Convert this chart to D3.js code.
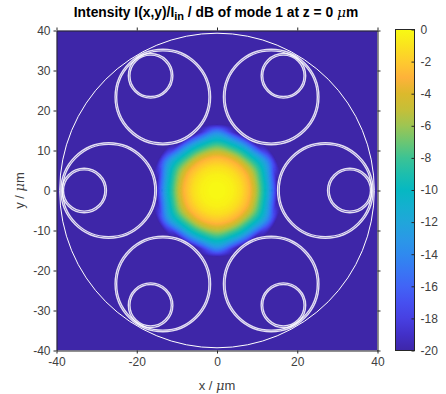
<!DOCTYPE html>
<html><head><meta charset="utf-8">
<script src="https://cdn.jsdelivr.net/npm/d3@7"></script>
<style>
html,body{margin:0;padding:0;background:#fff}
svg{display:block}
text{font-family:"Liberation Sans",Arial,sans-serif;fill:#262626}
.tick text{font-size:12px;fill:#404040}
.domain,.tick line{stroke:#262626;stroke-width:1}
</style></head><body>
<svg id="c" width="446" height="394"></svg>
<script>
// Axis ticks
const xTicks=[-40,-20,0,20,40];
const yTicks=[-40,-30,-20,-10,0,10,20,30,40];
const cbarTicks=[0,-2,-4,-6,-8,-10,-12,-14,-16,-18,-20];
// Colour bar
const cStops=[-20,-19,-18,-17,-16,-15,-14,-13,-12,-11,-10,-9,-8,-7,-6,-5,-4,-3,-2,-1,0];
const cHex=["#3e26a8","#4230c8","#4740e2","#4650f0","#4164f6","#3877f4","#2f8aef","#2a99e6","#20a6da","#14b0cf","#06b8c2","#1dbead","#3cc394","#6cc672","#9dc553","#c5bf38","#dcb92c","#feb23a","#fecb2e","#fae31e","#f8fa13"];
// Field: dB against radius (um), read along a lobe direction and a notch direction
const radii=[0,2,4,6,8,9,10,11,12,13,14,15,16,16.5,17];
const dbNotch=[0,-0.08,-0.4,-1.2,-2.7,-4.1,-6,-8,-10,-12.6,-15.8,-20,-20,-20,-20];
const dbLobe=[0,-0.08,-0.4,-1.2,-2.6,-3.9,-5.5,-7.2,-9,-10.8,-12.8,-15.3,-18.5,-20,-20];
// Fibre geometry (um)
const ringAngles=[0,60,120,180,240,300];
const largeDist=27, largeRadii=[11.5,11.9];
const smallDist=33.1, smallRadii=[5.15,5.55];
const outerRadius=39.2;

const fmt=d=>String(d);
const svg=d3.select("#c");
const L=56.5,R=377.5,T=30.5,B=350.5;
const x=d3.scaleLinear().domain([-40,40]).range([L,R]);
const y=d3.scaleLinear().domain([-40,40]).range([B,T]);
const color=d3.scaleLinear().domain(cStops).range(cHex).clamp(true);

svg.append("clipPath").attr("id","plot").append("rect")
  .attr("x",L).attr("y",T).attr("width",R-L).attr("height",B-T);
const g=svg.append("g").attr("clip-path","url(#plot)");
g.append("rect").attr("x",L).attr("y",T).attr("width",R-L).attr("height",B-T).attr("fill",color(-20));

// field sampled on a grid, then contoured
const span=20,n=161;
const pN=d3.scaleLinear().domain(radii).range(dbNotch).clamp(true);
const pL=d3.scaleLinear().domain(radii).range(dbLobe).clamp(true);
const vals=new Float64Array(n*n);
for(let j=0;j<n;j++)for(let i=0;i<n;i++){
  const ux=-span+i*2*span/(n-1),uy=span-j*2*span/(n-1);
  const r=Math.hypot(ux,uy),th=Math.atan2(uy,ux);
  const w=Math.pow((1-Math.cos(6*th))/2,2);
  vals[j*n+i]=pN(r)*(1-w)+pL(r)*w;
}
const thresholds=d3.range(-19.9,0.01,0.1);
const cg=d3.geoPath(d3.geoTransform({point(px,py){
  this.stream.point(x(-span+px*2*span/(n-1)-2*span/(n-1)*0.5),y(span-py*2*span/(n-1)+2*span/(n-1)*0.5));
}}));
g.append("g").selectAll("path").data(d3.contours().size([n,n]).thresholds(thresholds)(Array.from(vals)))
  .join("path").attr("d",cg).attr("fill",d=>color(d.value)).attr("stroke",d=>color(d.value)).attr("stroke-width",0.3);

// rings
const rings=[];
ringAngles.forEach(a=>{
  const t=a*Math.PI/180;
  largeRadii.forEach(r=>rings.push({cx:largeDist*Math.cos(t),cy:largeDist*Math.sin(t),r}));
  smallRadii.forEach(r=>rings.push({cx:smallDist*Math.cos(t),cy:smallDist*Math.sin(t),r}));
});
const px=(x(1)-x(0));
g.append("g").selectAll("circle").data(rings).join("circle")
  .attr("cx",d=>x(d.cx)).attr("cy",d=>y(d.cy)).attr("r",d=>d.r*px)
  .attr("fill","none").attr("stroke","#fff").attr("stroke-width",1.4).attr("stroke-opacity",0.85);
g.append("circle").attr("cx",x(0)).attr("cy",y(0)).attr("r",outerRadius*px)
  .attr("fill","none").attr("stroke","#fff").attr("stroke-width",1);

// axes
svg.append("g").attr("transform",`translate(0,${B})`)
  .call(d3.axisBottom(x).tickValues(xTicks).tickSize(3).tickSizeOuter(0).tickPadding(4).tickFormat(fmt));
svg.append("g").attr("transform",`translate(0,${T})`)
  .call(d3.axisTop(x).tickValues(xTicks).tickSize(3).tickSizeOuter(0).tickFormat(""));
svg.append("g").attr("transform",`translate(${L},0)`)
  .call(d3.axisLeft(y).tickValues(yTicks).tickSize(3).tickSizeOuter(0).tickPadding(3).tickFormat(fmt));
svg.append("g").attr("transform",`translate(${R},0)`)
  .call(d3.axisRight(y).tickValues(yTicks).tickSize(3).tickSizeOuter(0).tickFormat(""));

// colour bar
const CL=395.5,CR=414.5;
const cy=d3.scaleLinear().domain([-20,0]).range([B,T-1]);
const grad=svg.append("defs").append("linearGradient").attr("id","cb").attr("x1",0).attr("x2",0).attr("y1",1).attr("y2",0);
grad.selectAll("stop").data(cStops).join("stop")
  .attr("offset",d=>(d+20)/20).attr("stop-color",d=>color(d));
svg.append("rect").attr("x",CL).attr("y",cy(0)).attr("width",CR-CL).attr("height",cy(-20)-cy(0))
  .attr("fill","url(#cb)").attr("stroke","#262626");
const cax=svg.append("g").attr("transform",`translate(${CR},0)`)
  .call(d3.axisRight(cy).tickValues(cbarTicks).tickSize(-3).tickSizeOuter(0).tickPadding(6).tickFormat(fmt));
cax.select(".domain").remove();

// labels
const title=svg.append("text").attr("x",216).attr("y",17).attr("text-anchor","middle")
  .style("font-size","13.8px").style("font-weight","bold").style("fill","#000");
title.append("tspan").text("Intensity I(x,y)/I");
title.append("tspan").attr("dy",3).style("font-size","11px").text("in");
title.append("tspan").attr("dy",-3).text(" / dB of mode 1 at z = 0 ");
title.append("tspan").style("font-family","'DejaVu Serif',serif").style("font-style","italic").style("font-weight","normal").text("\u03bc");
title.append("tspan").text("m");
const xl=svg.append("text").attr("x",217).attr("y",390).attr("text-anchor","middle").style("font-size","13px").style("fill","#404040");
xl.append("tspan").text("x / ");
xl.append("tspan").style("font-family","'DejaVu Serif',serif").style("font-style","italic").text("\u03bc");
xl.append("tspan").text("m");
const yl=svg.append("text").attr("transform",`translate(24,${(T+B)/2}) rotate(-90)`).attr("text-anchor","middle").style("font-size","13px").style("fill","#404040");
yl.append("tspan").text("y / ");
yl.append("tspan").style("font-family","'DejaVu Serif',serif").style("font-style","italic").text("\u03bc");
yl.append("tspan").text("m");
</script></body></html>
